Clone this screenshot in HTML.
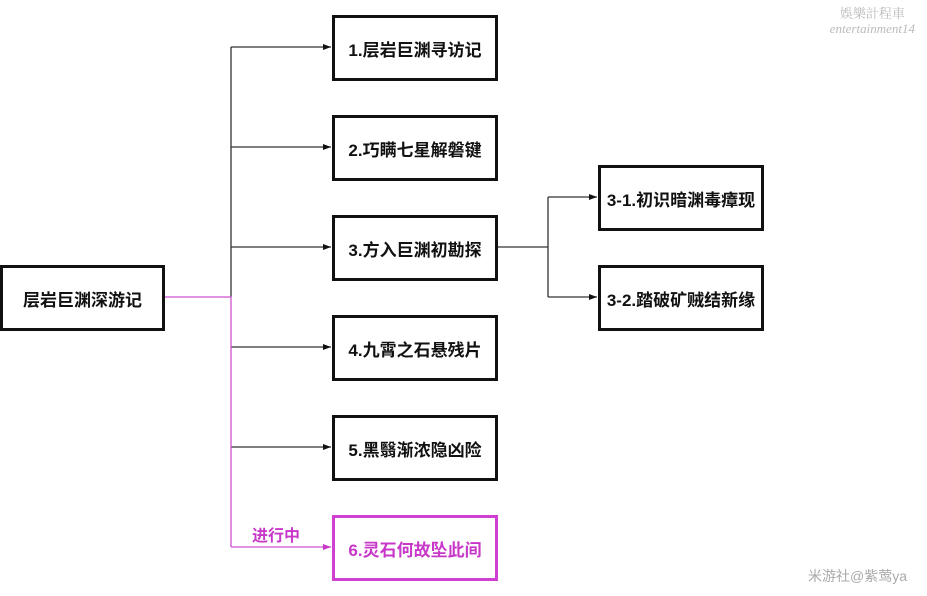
<!DOCTYPE html>
<html><head><meta charset="utf-8"><style>
body{margin:0;width:927px;height:596px;background:#fff;position:relative;overflow:hidden;font-family:"Liberation Sans","Noto Sans CJK SC",sans-serif}
.b{position:absolute;border:3px solid #111;box-sizing:border-box;display:flex;align-items:center;justify-content:center;font-weight:bold;font-size:17px;color:#111;background:#fff}
.m{border-color:#d040d0;color:#c838c8}
</style></head><body>
<svg width="927" height="596" style="position:absolute;left:0;top:0">
<defs><marker id="a" markerWidth="8" markerHeight="6" refX="8" refY="3" orient="auto" markerUnits="userSpaceOnUse"><path d="M0,0L8,3L0,6z" fill="#111"/></marker>
<marker id="am" markerWidth="8" markerHeight="6" refX="8" refY="3" orient="auto" markerUnits="userSpaceOnUse"><path d="M0,0L8,3L0,6z" fill="#c838c8"/></marker></defs>
<g stroke="#333" stroke-width="1.3" fill="none">
<path d="M231,47V297"/>
<path d="M231,47H331" marker-end="url(#a)"/>
<path d="M231,147H331" marker-end="url(#a)"/>
<path d="M231,247H331" marker-end="url(#a)"/>
<path d="M231,347H331" marker-end="url(#a)"/>
<path d="M231,447H331" marker-end="url(#a)"/>
<path d="M497,247H548M548,197V297"/>
<path d="M548,197H597" marker-end="url(#a)"/>
<path d="M548,297H597" marker-end="url(#a)"/>
</g>
<g stroke="#d050d0" stroke-width="1.3" fill="none">
<path d="M164,297H231V547"/>
<path d="M231,547H331" marker-end="url(#am)"/>
</g>
</svg>
<div class="b" style="left:0;top:265px;width:165px;height:66px">层岩巨渊深游记</div>
<div class="b" style="left:332px;top:15px;width:166px;height:66px">1.层岩巨渊寻访记</div>
<div class="b" style="left:332px;top:115px;width:166px;height:66px">2.巧瞒七星解磐键</div>
<div class="b" style="left:332px;top:215px;width:166px;height:66px">3.方入巨渊初勘探</div>
<div class="b" style="left:332px;top:315px;width:166px;height:66px">4.九霄之石悬残片</div>
<div class="b" style="left:332px;top:415px;width:166px;height:66px">5.黑翳渐浓隐凶险</div>
<div class="b m" style="left:332px;top:515px;width:166px;height:66px">6.灵石何故坠此间</div>
<div class="b" style="left:598px;top:165px;width:166px;height:66px">3-1.初识暗渊毒瘴现</div>
<div class="b" style="left:598px;top:265px;width:166px;height:66px">3-2.踏破矿贼结新缘</div>
<div style="position:absolute;left:252px;top:522px;font-size:16px;font-weight:bold;color:#c838c8">进行中</div>
<div style="position:absolute;right:12px;top:6px;font-size:13px;color:#bbb;text-align:center;font-family:'Liberation Serif','Noto Serif CJK SC',serif;line-height:15px">娛樂計程車<br><i>entertainment14</i></div>
<div style="position:absolute;left:808px;top:566px;font-size:14px;color:#aaa">米游社@紫莺ya</div>
</body></html>
